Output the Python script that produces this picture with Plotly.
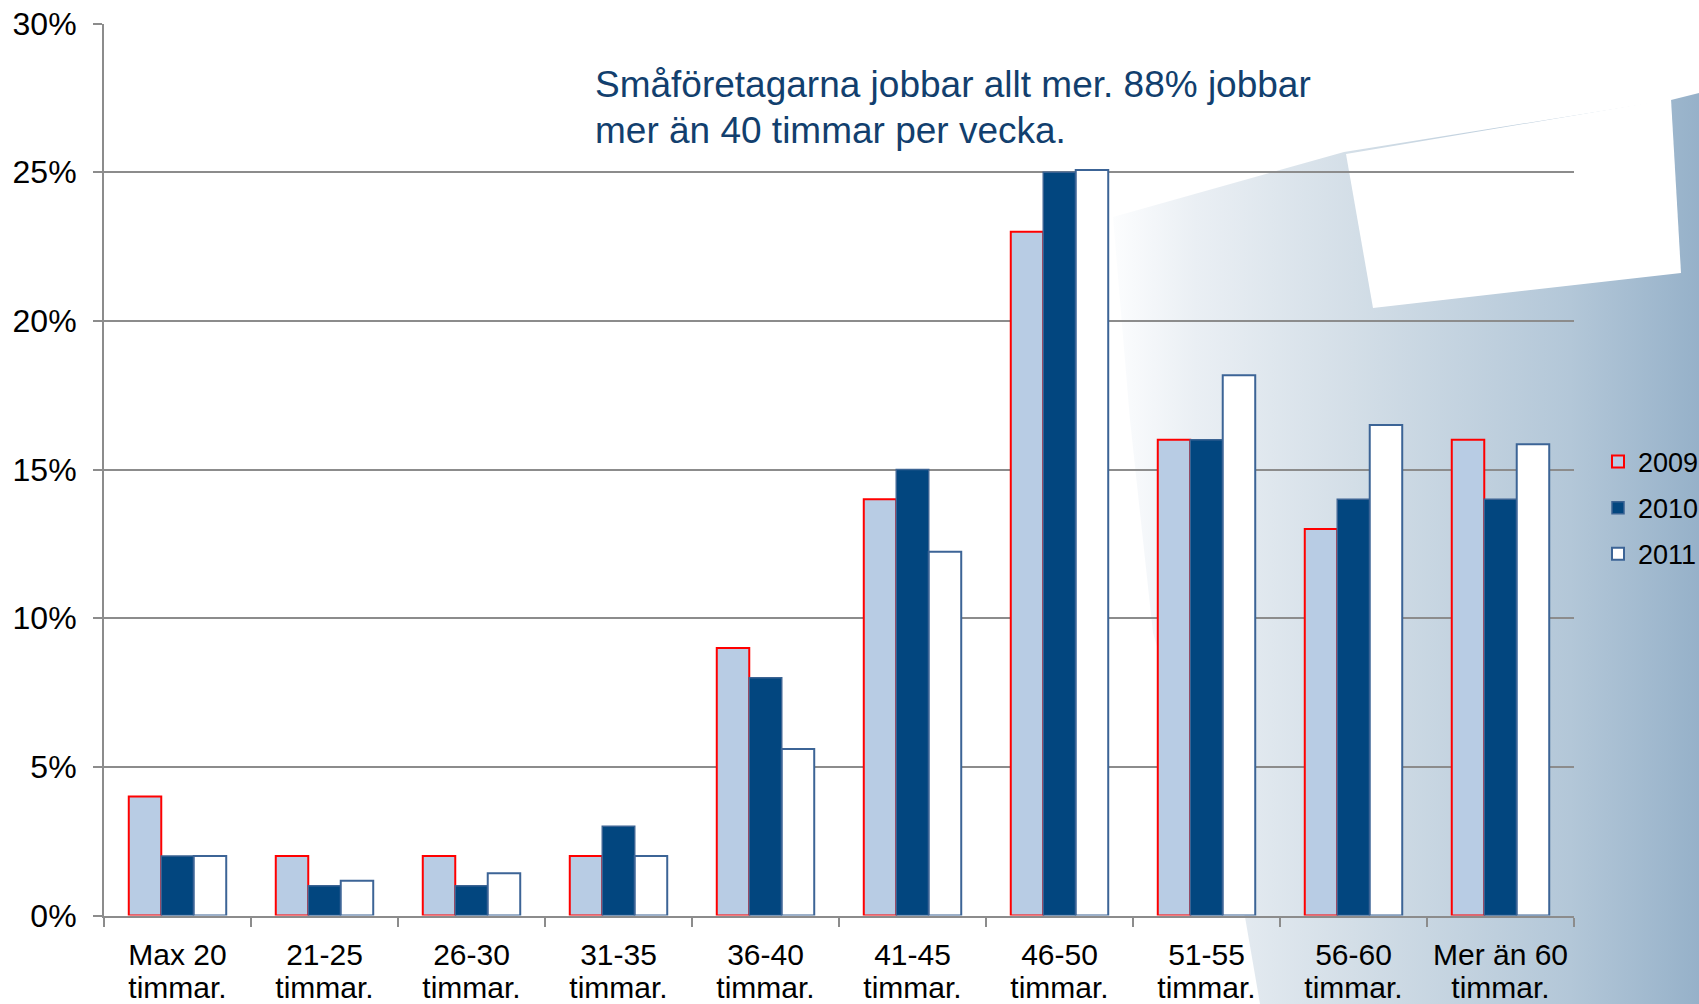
import plotly.graph_objects as go

# ---------------- data ----------------
categories = ["Max 20 timmar.", "21-25 timmar.", "26-30 timmar.", "31-35 timmar.",
              "36-40 timmar.", "41-45 timmar.", "46-50 timmar.", "51-55 timmar.",
              "56-60 timmar.", "Mer än 60 timmar."]
label_line1 = ["Max 20", "21-25", "26-30", "31-35", "36-40", "41-45", "46-50", "51-55",
               "56-60", "Mer än 60"]
label_line2 = ["timmar."] * 10
series_names = ["2009", "2010", "2011"]
values_2009 = [4, 2, 2, 2, 9, 14, 23, 16, 13, 16]
values_2010 = [2, 1, 1, 3, 8, 15, 25, 16, 14, 14]
values_2011 = [2, 1.17, 1.42, 2, 5.6, 12.23, 25.07, 18.17, 16.5, 15.85]
y_tick_values = [0, 5, 10, 15, 20, 25, 30]
y_tick_labels = ["0%", "5%", "10%", "15%", "20%", "25%", "30%"]
headline_1 = "Småföretagarna jobbar allt mer. 88% jobbar"
headline_2 = "mer än 40 timmar per vecka."

# ---------------- page geometry / styles ----------------
W, H = 1699, 1004
FONT = "Liberation Sans, Arial, sans-serif"
GRID = "#8C8C8C"

fig = go.Figure()

# decorative background (page pixel coordinates on a hidden full-page axis pair)
bg_poly_x = [1113, 1344, 1671, 1699, 1699, 1260, 1245, 1200, 1153, 1130, 1113]
bg_poly_y = [217, 152, 100, 93, 1004, 1004, 917, 790, 633, 420, 217]
fig.add_trace(go.Scatter(
    x=bg_poly_x, y=bg_poly_y, mode="lines", fill="toself",
    line=dict(width=0, color="rgba(0,0,0,0)"),
    fillgradient=dict(type="horizontal", start=1113, stop=1699,
                      colorscale=[[0, "#FCFDFE"], [0.14, "#EAEFF4"], [0.41, "#D3DEE7"],
                                  [0.78, "#B3C7D8"], [1, "#96B1C9"]]),
    hoverinfo="skip", showlegend=False, xaxis="x", yaxis="y"))
white_x = [1346, 1671, 1681, 1373, 1346]
white_y = [154, 99, 273, 308, 154]
fig.add_trace(go.Scatter(
    x=white_x, y=white_y, mode="lines", fill="toself", fillcolor="#FFFFFF",
    line=dict(width=0, color="rgba(0,0,0,0)"),
    hoverinfo="skip", showlegend=False, xaxis="x", yaxis="y"))

styles = {
    "2009": dict(color="#B8CCE4", line=dict(color="#FF0000", width=2)),
    "2010": dict(color="#02467F", line=dict(color="#3B6393", width=1.5)),
    "2011": dict(color="#FFFFFF", line=dict(color="#3C6496", width=2)),
}
for name, vals in zip(series_names, [values_2009, values_2010, values_2011]):
    fig.add_trace(go.Bar(
        x=categories, y=vals, name=name, marker=styles[name],
        legendgroup=name, xaxis="x2", yaxis="y2"))

# empty helper trace so the second-line label axis is instantiated
fig.add_trace(go.Scatter(x=[], y=[], xaxis="x3", yaxis="y2", showlegend=False,
                         hoverinfo="skip", mode="markers"))

x0, x1 = 104 / W, 1574 / W
y0, y1 = (H - 915.5) / H, (H - 23.5) / H
n_cat = len(categories)
cat_range = [-0.5, n_cat - 0.5]

fig.update_layout(
    width=W, height=H,
    margin=dict(l=0, r=0, t=0, b=0, autoexpand=False),
    paper_bgcolor="#FFFFFF", plot_bgcolor="rgba(0,0,0,0)",
    font=dict(family=FONT, color="#000000"),
    barmode="group", bargap=0.337, bargroupgap=0,
    xaxis=dict(domain=[0, 1], range=[0, W], visible=False, fixedrange=True),
    yaxis=dict(domain=[0, 1], range=[H, 0], visible=False, fixedrange=True),
    xaxis2=dict(domain=[x0, x1], anchor="y2", type="category", automargin=False,
                range=cat_range, categoryorder="array", categoryarray=categories,
                tickvals=categories, ticktext=label_line1,
                showline=True, linecolor=GRID, linewidth=2, tickangle=0,
                ticks="outside", tickson="boundaries", ticklen=9, tickcolor=GRID, tickwidth=2,
                showgrid=False, tickfont=dict(size=30, family=FONT, color="#000000"),
                ticklabelstandoff=11),
    xaxis3=dict(domain=[x0, x1], overlaying="x2", anchor="y2", side="bottom", type="linear",
                automargin=False, range=cat_range, tickvals=list(range(n_cat)),
                ticktext=label_line2, showline=False, ticks="", showgrid=False,
                zeroline=False, tickangle=0, showticklabels=True,
                tickfont=dict(size=30, family=FONT, color="#000000"),
                ticklabelstandoff=51, fixedrange=True),
    yaxis2=dict(domain=[y0, y1], anchor="x2", range=[0, 30], automargin=False,
                tickvals=y_tick_values, ticktext=y_tick_labels,
                showline=True, linecolor=GRID, linewidth=2,
                ticks="outside", ticklen=9, tickcolor=GRID, tickwidth=2,
                showgrid=True, gridcolor=GRID, gridwidth=2, zeroline=False,
                tickfont=dict(size=32, family=FONT, color="#000000"),
                ticklabelstandoff=10),
    legend=dict(x=1598 / W, xanchor="left", y=1 - 508 / H, yanchor="middle",
                bgcolor="rgba(0,0,0,0)", font=dict(size=27, family=FONT, color="#000000"),
                tracegroupgap=8, itemwidth=30),
    showlegend=True,
)

fig.add_annotation(xref="paper", yref="paper", x=593 / W, y=1 - 84.5 / H,
                   xanchor="left", yanchor="middle", showarrow=False, text=headline_1,
                   font=dict(size=37, family=FONT, color="#123F6E"))
fig.add_annotation(xref="paper", yref="paper", x=593 / W, y=1 - 130 / H,
                   xanchor="left", yanchor="middle", showarrow=False, text=headline_2,
                   font=dict(size=37, family=FONT, color="#123F6E"))

fig.write_html("out.html", config={"displayModeBar": False},
               post_script="document.body.style.margin='0';document.body.style.overflow='hidden';")
